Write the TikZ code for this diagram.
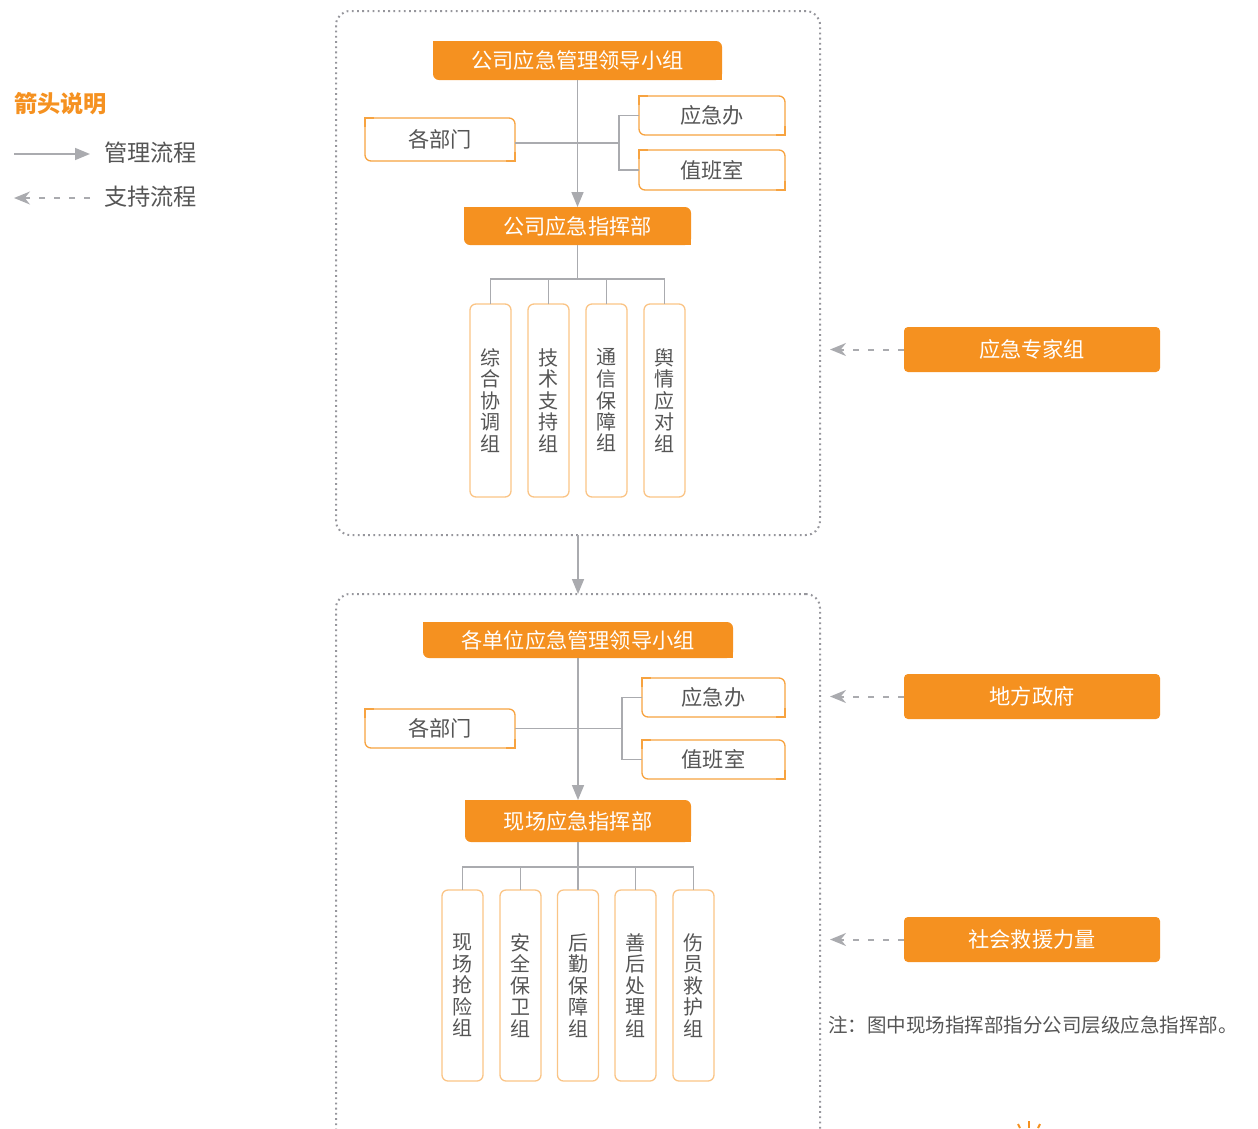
\documentclass[tikz,border=0pt]{standalone}
\usepackage{fontspec}
\setmainfont{Noto Sans CJK SC}
\usetikzlibrary{arrows.meta}

\definecolor{emorange}{RGB}{245,145,32}
\definecolor{boxline}{RGB}{247,163,64}
\definecolor{paleline}{RGB}{250,196,134}
\definecolor{flowgray}{RGB}{170,171,175}
\definecolor{dotgray}{RGB}{150,150,156}
\definecolor{textgray}{RGB}{85,85,85}

\tikzset{
  headbox/.style={fill=emorange, text=white, rounded corners=6pt, inner sep=0pt, outer sep=0pt,
    font=\fontsize{21.2}{24}\selectfont},
  sidebox/.style={fill=emorange, text=white, rounded corners=4pt, inner sep=0pt, outer sep=0pt,
    minimum width=256pt, minimum height=45pt, font=\fontsize{21.2}{24}\selectfont},
  unitbox/.style={draw=boxline, line width=1.3pt, fill=white, rounded corners=6pt, text=textgray,
    inner sep=0pt, outer sep=0pt, font=\fontsize{21.2}{24}\selectfont},
  teambox/.style={draw=paleline, line width=1.3pt, rounded corners=6pt, text=textgray, align=center,
    minimum width=41pt, inner sep=0pt, outer sep=0pt, font=\fontsize{20}{21.5}\selectfont},
  groupbox/.style={draw=dotgray, line width=2pt, dash pattern=on 1.8pt off 3.4pt,
    rounded corners=14pt, minimum width=484pt, outer sep=0pt},
  flowline/.style={draw=flowgray, line width=1.6pt},
  mgmtarrow/.style={flowline, -{Triangle[length=15pt,width=12pt]}},
  supportarrow/.style={flowline, line width=2pt, dash pattern=on 6pt off 9pt,
    -{Stealth[length=16pt,width=13pt]}},
  legendtext/.style={anchor=west, text=textgray, inner sep=0pt, font=\fontsize{23.2}{26}\selectfont},
}

\begin{document}
\begin{tikzpicture}[x=1pt,y=-1pt]
\def\leafcorners#1{% square off the top left and bottom right corners
  \fill[emorange] (#1.north west) rectangle ++(7pt,-7pt);
  \fill[emorange] (#1.south east) rectangle ++(-7pt,7pt);}
\def\leafedges#1{%
  \fill[white] (#1.north west) rectangle ++(7pt,-7pt);
  \fill[white] (#1.south east) rectangle ++(-7pt,7pt);
  \draw[boxline, line width=1.3pt] ([yshift=-9pt]#1.north west) |- ([xshift=9pt]#1.north west);
  \draw[boxline, line width=1.3pt] ([yshift=9pt]#1.south east) |- ([xshift=-9pt]#1.south east);}

\useasboundingbox (0,0) rectangle (1258,1128);
\clip (0,0) rectangle (1258,1128);

% legend
\node[anchor=west, text=emorange, inner sep=0pt, font=\bfseries\fontsize{23.2}{26}\selectfont] (legendtitle) at (14,104) {箭头说明};
\coordinate (mgmtstart) at (14,154);
\coordinate (mgmtend) at (90,154);
\draw[mgmtarrow] (mgmtstart) -- (mgmtend);
\node[legendtext] (mgmtlabel) at (104,153) {管理流程};
\coordinate (supportstart) at (90,198);
\coordinate (supportend) at (14,198);
\draw[supportarrow, line width=1.6pt] (supportstart) -- (supportend);
\node[legendtext] (supportlabel) at (104,197) {支持流程};

% company level
\node[groupbox, minimum height=524pt] (topgroup) at (578,273) {};

\node[headbox, minimum width=289pt, minimum height=39pt] (lead1) at (577.5,60.5) {公司应急管理领导小组};
\leafcorners{lead1}
\node[unitbox, minimum width=150pt, minimum height=43pt] (dept1) at (440,139.5) {各部门};
\leafedges{dept1}
\node[unitbox, minimum width=146pt, minimum height=39pt] (office1) at (712,115.5) {应急办};
\leafedges{office1}
\node[unitbox, minimum width=146pt, minimum height=40pt] (duty1) at (712,170) {值班室};
\leafedges{duty1}
\node[headbox, minimum width=227pt, minimum height=38pt] (cmd1) at (577.5,226) {公司应急指挥部};
\leafcorners{cmd1}

\coordinate (split1) at (619,143);
\draw[flowline] (split1 -| dept1.east) -- (split1);
\draw[flowline] (office1.west) -| (split1) |- (duty1.west);
\draw[mgmtarrow] (lead1) -- (cmd1);

\node[teambox, minimum height=193pt] (team11) at (490.5,400.5) {综\\合\\协\\调\\组};
\node[teambox, minimum height=193pt] (team12) at (548.5,400.5) {技\\术\\支\\持\\组};
\node[teambox, minimum height=193pt] (team13) at (606.5,400.5) {通\\信\\保\\障\\组};
\node[teambox, minimum height=193pt] (team14) at (664.5,400.5) {舆\\情\\应\\对\\组};

\coordinate (bus1) at (577.5,279);
\draw[flowline] (cmd1.south) -- (bus1);
\draw[flowline] (team11.north) -- (team11.north |- bus1) -- (team14.north |- bus1) -- (team14.north);
\foreach \t in {team12,team13}
  \draw[flowline] (\t.north) -- (\t.north |- bus1);

% unit level
\node[groupbox, minimum height=556pt] (bottomgroup) at (578,872) {};
\draw[mgmtarrow] (topgroup.south) -- (bottomgroup.north);

\node[headbox, minimum width=310pt, minimum height=36pt] (lead2) at (578,640) {各单位应急管理领导小组};
\leafcorners{lead2}
\node[unitbox, minimum width=150pt, minimum height=39pt] (dept2) at (440,728.5) {各部门};
\leafedges{dept2}
\node[unitbox, minimum width=143pt, minimum height=39pt] (office2) at (713.5,697.5) {应急办};
\leafedges{office2}
\node[unitbox, minimum width=143pt, minimum height=39pt] (duty2) at (713.5,759.5) {值班室};
\leafedges{duty2}
\node[headbox, minimum width=226pt, minimum height=42pt] (cmd2) at (578,821) {现场应急指挥部};
\leafcorners{cmd2}

\coordinate (split2) at (622,728.5);
\draw[flowline] (dept2.east) -- (split2);
\draw[flowline] (office2.west) -| (split2) |- (duty2.west);
\draw[mgmtarrow] (lead2) -- (cmd2);

\node[teambox, minimum height=191pt] (team21) at (462.5,985.5) {现\\场\\抢\\险\\组};
\node[teambox, minimum height=191pt] (team22) at (520.5,985.5) {安\\全\\保\\卫\\组};
\node[teambox, minimum height=191pt] (team23) at (578,985.5) {后\\勤\\保\\障\\组};
\node[teambox, minimum height=191pt] (team24) at (635.5,985.5) {善\\后\\处\\理\\组};
\node[teambox, minimum height=191pt] (team25) at (693.5,985.5) {伤\\员\\救\\护\\组};

\coordinate (bus2) at (578,867);
\draw[flowline] (cmd2.south) -- (bus2);
\draw[flowline] (team21.north) -- (team21.north |- bus2) -- (team25.north |- bus2) -- (team25.north);
\foreach \t in {team22,team23,team24}
  \draw[flowline] (\t.north) -- (\t.north |- bus2);

% support
\node[sidebox] (expert) at (1032,349.5) {应急专家组};
\node[sidebox] (govt) at (1032,696.5) {地方政府};
\node[sidebox] (rescue) at (1032,939.5) {社会救援力量};
\draw[supportarrow, shorten >=10pt] (expert.west) -- (expert.west -| topgroup.east);
\draw[supportarrow, shorten >=10pt] (govt.west) -- (govt.west -| bottomgroup.east);
\draw[supportarrow, shorten >=10pt] (rescue.west) -- (rescue.west -| bottomgroup.east);

\node[anchor=west, text=textgray, inner sep=0pt, font=\fontsize{19.5}{24}\selectfont] (footnote) at (828,1025) {注：图中现场指挥部指分公司层级应急指挥部。};

% cut off mark at the lower edge
\draw[emorange, line width=2pt] (1018,1124) -- (1020,1128);
\draw[emorange, line width=2pt] (1029,1121) -- (1029,1128);
\draw[emorange, line width=2pt] (1040,1124) -- (1038,1128);

\end{tikzpicture}
\end{document}
